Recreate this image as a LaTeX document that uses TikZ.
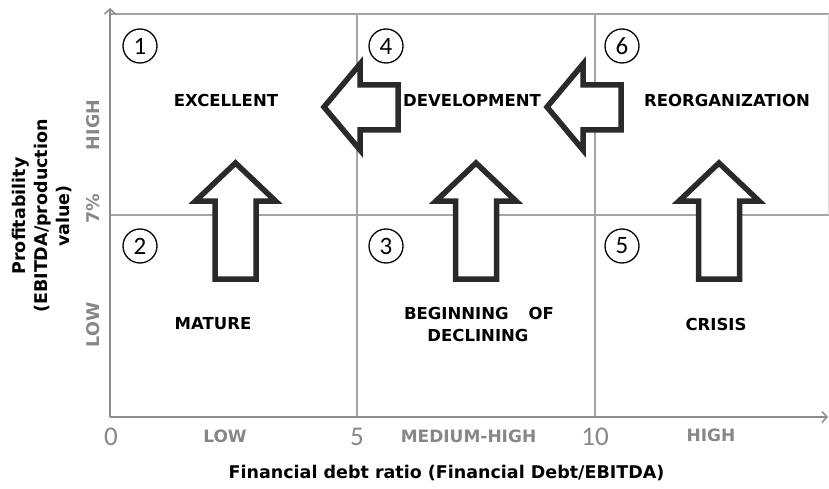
\documentclass[tikz,border=0pt]{standalone}
\usepackage{fontspec}
\setmainfont{DejaVu Sans}
\newfontfamily\numfont{Carlito}
\usetikzlibrary{arrows.meta}
\definecolor{gridc}{HTML}{A4A4A4}
\definecolor{axisc}{HTML}{8C8C8C}
\definecolor{labc}{HTML}{878787}
\definecolor{arrc}{HTML}{2A2A2A}
\begin{document}
\begin{tikzpicture}[x=1pt,y=-1pt,
  gridline/.style={draw=gridc,line width=1.8pt},
  axisline/.style={draw=axisc,line width=2.4pt,-{Straight Barb[length=5pt,width=11pt,line width=1.5pt]}},
  region/.style={font=\bfseries\fontsize{16.5}{19}\selectfont,text=black,inner sep=0},
  axlab/.style={font=\bfseries\fontsize{17}{20}\selectfont,text=labc,inner sep=0},
  ylab/.style={font=\bfseries\fontsize{17.5}{20}\selectfont,text=labc,inner sep=0,rotate=90},
  axnum/.style={font=\numfont\fontsize{27}{30}\selectfont,text=labc,inner sep=0},
  numcirc/.style={circle,draw=black,line width=1.3pt,minimum size=34pt,inner sep=0,font=\numfont\fontsize{25}{26}\selectfont},
  bigarrow/.style={draw=arrc,line width=5.5pt,fill=white,line join=miter},
  axtitle/.style={font=\bfseries\fontsize{17.5}{22}\selectfont,inner sep=0,align=center}]
\useasboundingbox (0,0) rectangle (829,489);
% coordinates
\coordinate (O) at (110,417);
\coordinate (Ytop) at (110,8);
\coordinate (Xend) at (828,417);
\coordinate (TL) at (110,14);
\coordinate (TR) at (829,14);
\coordinate (ML) at (110,215);
\coordinate (MR) at (829,215);
\coordinate (V1t) at (357,14);
\coordinate (V1b) at (357,417);
\coordinate (V2t) at (595,14);
\coordinate (V2b) at (595,417);
\coordinate (Rt) at (828,14);
\coordinate (Rb) at (828,215);
% grid
\draw[gridline] (TL) -- (TR);
\draw[gridline] (ML) -- (MR);
\draw[gridline] (V1t) -- (V1b);
\draw[gridline] (V2t) -- (V2b);
\draw[draw=gridc!40,line width=1pt] (Rt) -- (Rb);
% axes
\draw[axisline] (O) -- (Ytop);
\draw[axisline] (O) -- (Xend);
% up arrows
\foreach \cx in {235.5,476,719}{
  \draw[bigarrow] (\cx,163) -- (\cx-40,201) -- (\cx-20.5,201) -- (\cx-20.5,279)
    -- (\cx+20.5,279) -- (\cx+20.5,201) -- (\cx+40,201) -- cycle;
}
% left arrows
\foreach \tx in {324,547}{
  \draw[bigarrow] (\tx,107) -- (\tx+36,64) -- (\tx+36,85) -- (\tx+74,85)
    -- (\tx+74,130) -- (\tx+36,130) -- (\tx+36,150) -- cycle;
}
% numbered circles
\node[numcirc] (c1) at (140,46) {1};
\node[numcirc] (c4) at (386,46) {4};
\node[numcirc] (c6) at (622,46) {6};
\node[numcirc] (c2) at (140,246) {2};
\node[numcirc] (c3) at (386,246) {3};
\node[numcirc] (c5) at (622,246) {5};
% region labels
\node[region] (excellent) at (226,100) {EXCELLENT};
\node[region] (development) at (472,100) {DEVELOPMENT};
\node[region] (reorg) at (727,100) {REORGANIZATION};
\node[region] (mature) at (213,324) {MATURE};
\node[region] (beginning) at (479,313) {BEGINNING\hspace{20pt}OF};
\node[region] (declining) at (478,335) {DECLINING};
\node[region] (crisis) at (716,324) {CRISIS};
% x axis labels
\node[axnum] (n0) at (111,437) {0};
\node[axnum] (n5) at (357,437) {5};
\node[axnum] (n10) at (595,437) {10};
\node[axlab] (xlow) at (225,436) {LOW};
\node[axlab] (xmed) at (468.5,436) {MEDIUM-HIGH};
\node[axlab] (xhigh) at (711,435) {HIGH};
% y axis labels
\node[ylab] (yhigh) at (93,125) {HIGH};
\node[ylab] (y7) at (93,209) {7\%};
\node[ylab] (ylow) at (93,325) {LOW};
% titles
\node[axtitle] (xtitle) at (446.5,473) {Financial debt ratio (Financial Debt/EBITDA)};
\node[axtitle,rotate=90] (ytitle) at (42,216) {Profitability\\(EBITDA/production\\value)};
\end{tikzpicture}
\end{document}
